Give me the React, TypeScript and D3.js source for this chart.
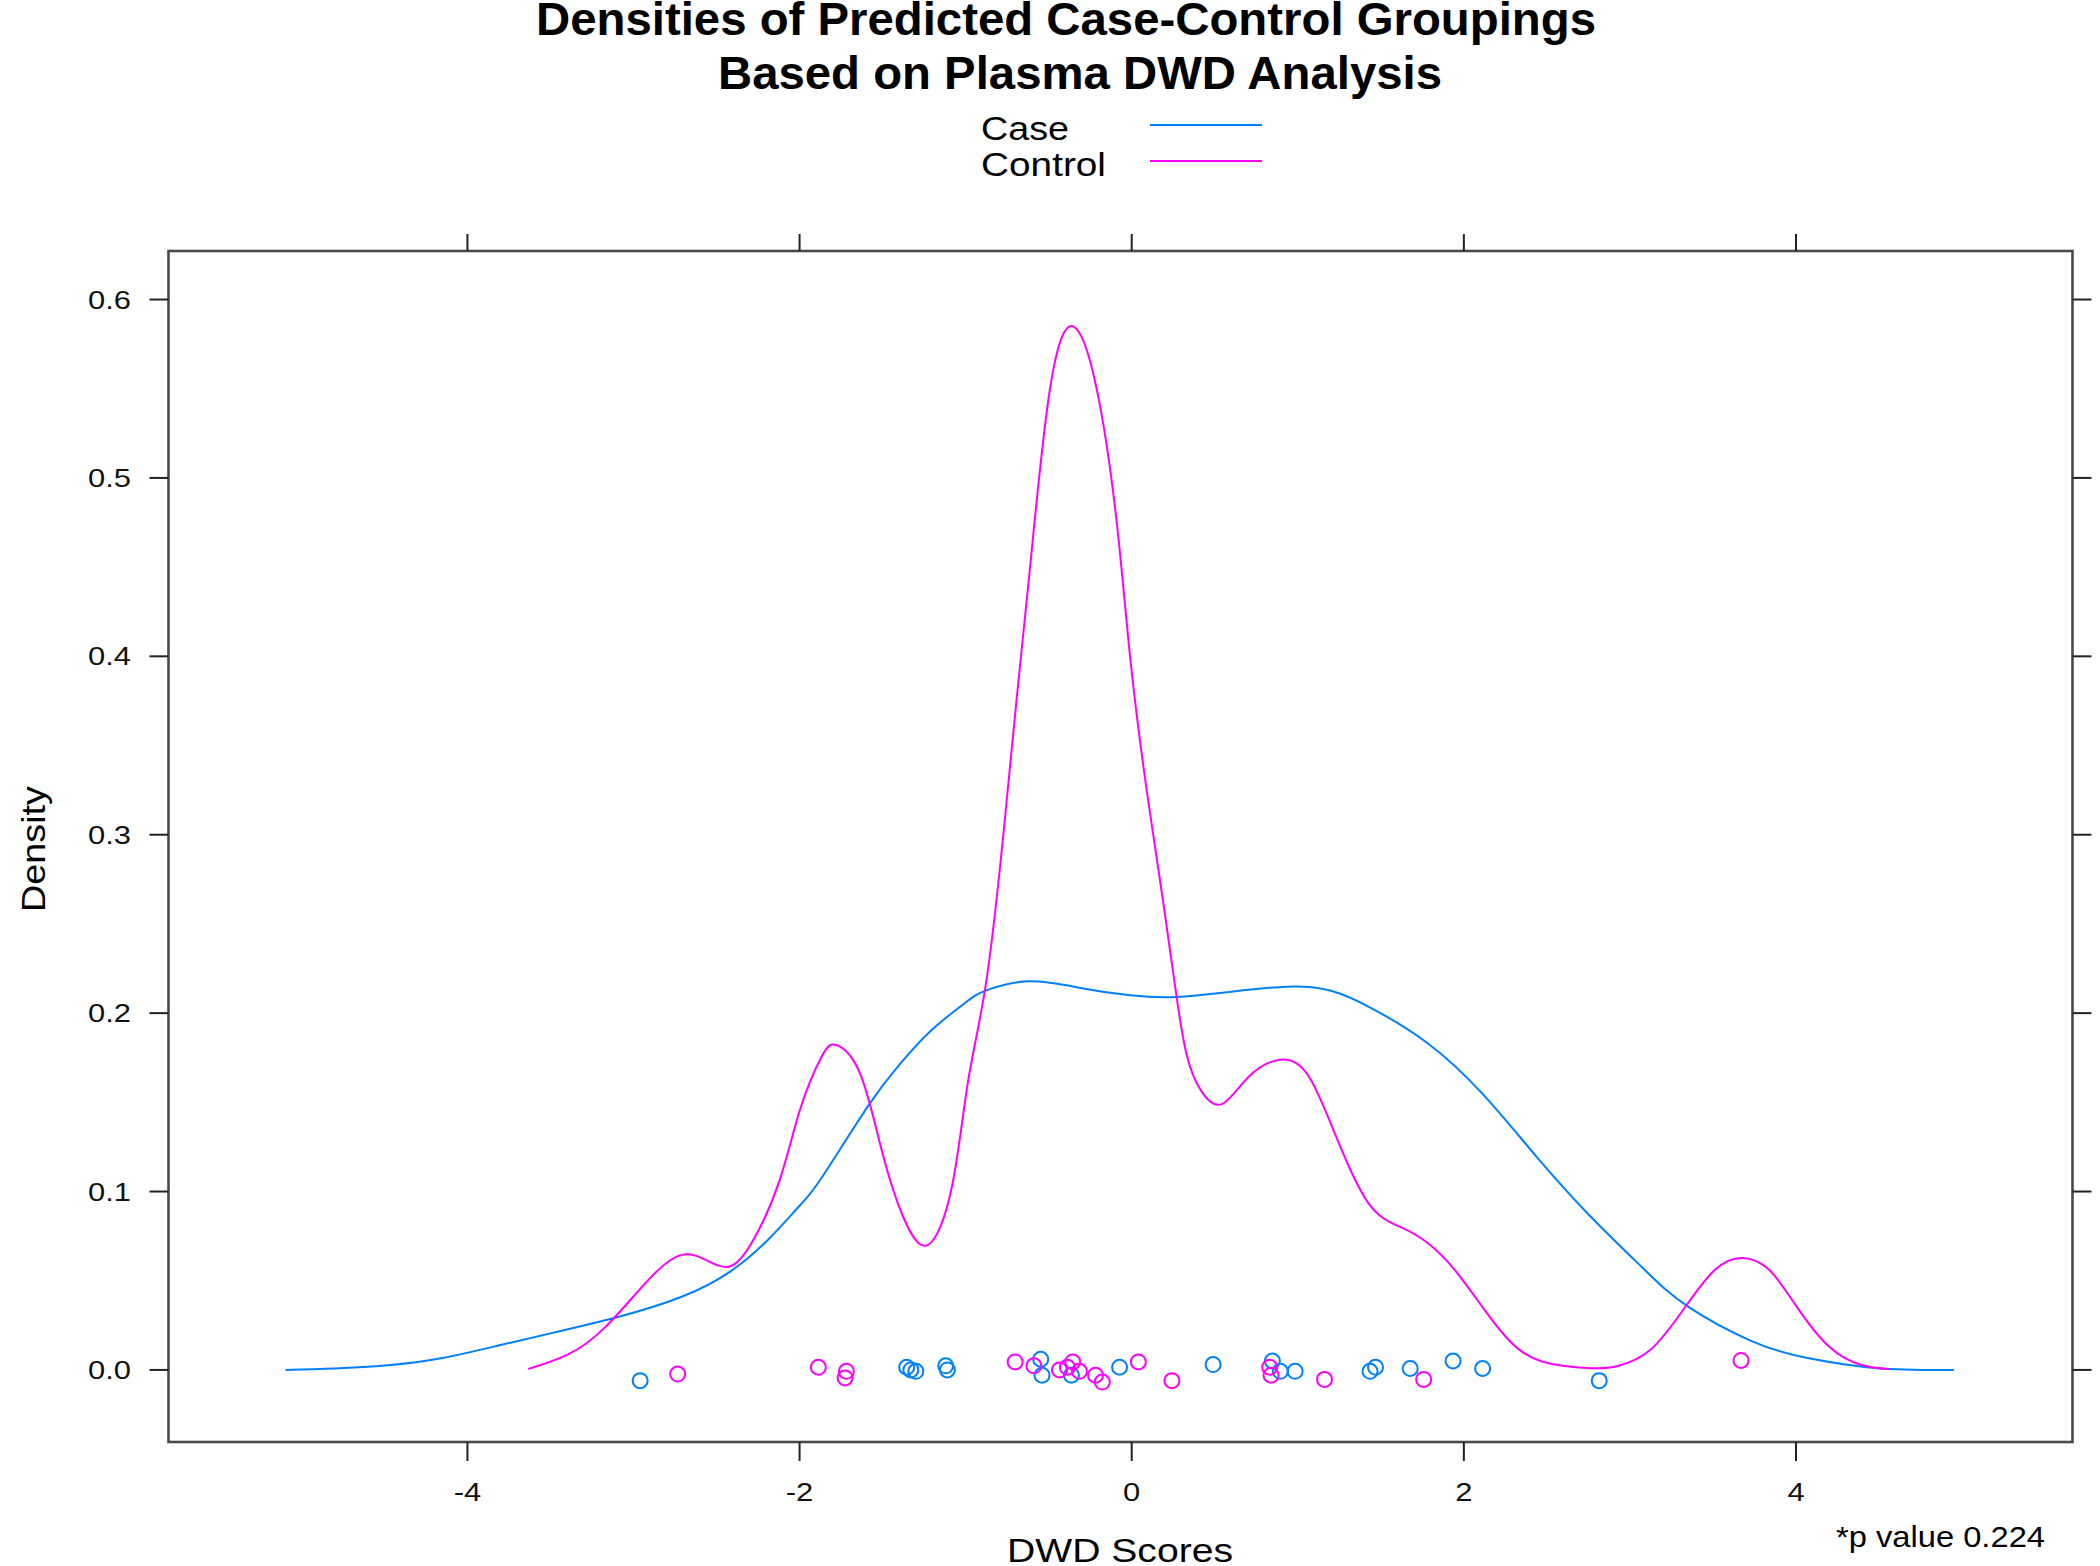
import React from "react";
import * as d3 from "d3";

const titleLines = ["Densities of Predicted Case-Control Groupings", "Based on Plasma DWD Analysis"];
const groupNames = ["Case", "Control"];
const groupColors = ["#0080ff", "#ff00ff"];
const xTicks = [-4, -2, 0, 2, 4];
const yTicks = [0, 0.1, 0.2, 0.3, 0.4, 0.5, 0.6];
const xLabel = "DWD Scores";
const yLabel = "Density";
const note = "*p value 0.224";

const caseDensX = [-5.095, -4.8, -4.48, -4.15, -3.82, -3.5, -3.1, -2.71, -2.42, -2.19, -2.0, -1.865, -1.587, -1.4, -1.211, -1.0, -0.883, -0.623, -0.3, -0.01, 0.267, 0.6, 0.935, 1.2, 1.459, 1.784, 2.11, 2.437, 2.763, 3.09, 3.35, 3.74, 4.07, 4.49, 4.95];
const caseDensY = [0.0, 0.0008, 0.0026, 0.0067, 0.0135, 0.0205, 0.0295, 0.041, 0.055, 0.073, 0.092, 0.108, 0.148, 0.171, 0.19, 0.206, 0.2125, 0.2178, 0.214, 0.21, 0.209, 0.212, 0.2148, 0.2125, 0.202, 0.183, 0.155, 0.1196, 0.086, 0.056, 0.0355, 0.0159, 0.0067, 0.001, 0.0];

const controlDensX = [-3.634, -3.4, -3.17, -2.91, -2.71, -2.55, -2.42, -2.29, -2.125, -1.997, -1.865, -1.774, -1.635, -1.505, -1.377, -1.228, -1.082, -0.985, -0.877, -0.773, -0.694, -0.612, -0.492, -0.355, -0.211, -0.09, -0.01, 0.09, 0.19, 0.269, 0.33, 0.414, 0.543, 0.706, 0.904, 1.067, 1.23, 1.425, 1.62, 1.784, 1.946, 2.11, 2.27, 2.47, 2.763, 2.927, 3.12, 3.32, 3.51, 3.677, 3.84, 4.004, 4.2, 4.395, 4.558];
const controlDensY = [0.0005, 0.0084, 0.024, 0.0505, 0.0645, 0.061, 0.058, 0.071, 0.105, 0.146, 0.176, 0.182, 0.166, 0.123, 0.086, 0.07, 0.103, 0.162, 0.217, 0.3, 0.375, 0.45, 0.55, 0.585, 0.55, 0.475, 0.4, 0.325, 0.262, 0.21, 0.177, 0.157, 0.149, 0.1645, 0.174, 0.1645, 0.131, 0.0935, 0.08, 0.071, 0.056, 0.0355, 0.0168, 0.0047, 0.001, 0.0022, 0.011, 0.0336, 0.056, 0.0628, 0.056, 0.0355, 0.013, 0.0028, 0.0005];

const casePtsX = [-2.96, -1.355, -1.33, -1.3, -1.12, -1.11, -0.548, -0.54, -0.363, -0.073, 0.49, 0.847, 0.895, 0.984, 1.435, 1.468, 1.677, 1.935, 2.113, 2.815];
const casePtsY = [-0.006, 0.0015, 0.0, -0.0008, 0.0023, 0.0, 0.006, -0.003, -0.003, 0.0015, 0.003, 0.005, -0.0008, -0.0008, -0.0008, 0.0015, 0.0008, 0.005, 0.0008, -0.006];

const controlPtsX = [-2.734, -1.887, -1.718, -1.726, -0.702, -0.589, -0.435, -0.387, -0.355, -0.315, -0.218, -0.177, 0.04, 0.242, 0.831, 0.839, 1.161, 1.758, 3.669];
const controlPtsY = [-0.0023, 0.0015, -0.0008, -0.0045, 0.0045, 0.0023, 0.0, 0.0015, 0.0045, -0.0008, -0.003, -0.0068, 0.0045, -0.006, 0.0015, -0.003, -0.0053, -0.0053, 0.0053];

const FONT = "'Liberation Sans', Arial, Helvetica, sans-serif";

export default function App() {
  const W = 2100, H = 1566;
  const left = 168.5, right = 2072.5, top = 251, bottom = 1442;
  const tick = 19;
  const x = d3.scaleLinear().domain([-5.8, 5.665]).range([left, right]);
  const y = d3.scaleLinear().domain([-0.0404, 0.6272]).range([bottom, top]);
  const line = d3
    .line<[number, number]>()
    .x((d) => x(d[0]))
    .y((d) => y(d[1]))
    .curve(d3.curveNatural);

  const densities = [
    d3.zip(caseDensX, caseDensY) as [number, number][],
    d3.zip(controlDensX, controlDensY) as [number, number][],
  ];
  const points = [
    d3.zip(casePtsX, casePtsY) as [number, number][],
    d3.zip(controlPtsX, controlPtsY) as [number, number][],
  ];

  return (
    <div style={{ position: "absolute", left: 0, top: 0, width: W, height: H, background: "#fff" }}>
      <svg width={W} height={H} viewBox={`0 0 ${W} ${H}`} style={{ display: "block", fontFamily: FONT }}>
        <rect x={0} y={0} width={W} height={H} fill="#fff" />
        {/* title */}
        <text x={1066} y={35} textAnchor="middle" fontSize={46} fontWeight="bold" textLength={1060} lengthAdjust="spacingAndGlyphs">
          {titleLines[0]}
        </text>
        <text x={1080} y={89} textAnchor="middle" fontSize={46} fontWeight="bold" textLength={724} lengthAdjust="spacingAndGlyphs">
          {titleLines[1]}
        </text>
        {/* legend */}
        {groupNames.map((g, i) => (
          <g key={g}>
            <text x={981} y={140 + i * 36} fontSize={33} textLength={i === 0 ? 88 : 125} lengthAdjust="spacingAndGlyphs">
              {g}
            </text>
            <line x1={1150} x2={1262} y1={125 + i * 36} y2={125 + i * 36} stroke={groupColors[i]} strokeWidth={2} />
          </g>
        ))}
        {/* densities */}
        {densities.map((d, i) => (
          <path key={"d" + i} d={line(d) || ""} fill="none" stroke={groupColors[i]} strokeWidth={2} />
        ))}
        {/* points */}
        {points.map((pts, i) =>
          pts.map((p, j) => (
            <circle key={`p${i}-${j}`} cx={x(p[0])} cy={y(p[1])} r={7.5} fill="none" stroke={groupColors[i]} strokeWidth={2} />
          ))
        )}
        {/* frame */}
        <rect x={left} y={top} width={right - left} height={bottom - top} fill="none" stroke="#4a4a4a" strokeWidth={2.6} />
        {/* ticks */}
        {xTicks.map((t) => (
          <g key={"xt" + t}>
            <line x1={x(t)} x2={x(t)} y1={bottom} y2={bottom + tick} stroke="#222" strokeWidth={2} />
            <line x1={x(t)} x2={x(t)} y1={top} y2={top - tick + 2} stroke="#222" strokeWidth={2} />
            <g transform={`translate(${x(t)},${1501}) scale(1.19,1)`}>
              <text x={0} y={0} textAnchor="middle" fontSize={26} fill="#111">
                {t < 0 ? "-" + Math.abs(t) : String(t)}
              </text>
            </g>
          </g>
        ))}
        {yTicks.map((t) => (
          <g key={"yt" + t}>
            <line x1={left - tick} x2={left} y1={y(t)} y2={y(t)} stroke="#222" strokeWidth={2} />
            <line x1={right} x2={right + tick} y1={y(t)} y2={y(t)} stroke="#222" strokeWidth={2} />
            <g transform={`translate(${131},${y(t) + 9}) scale(1.19,1)`}>
              <text x={0} y={0} textAnchor="end" fontSize={26} fill="#111">
                {d3.format(".1f")(t)}
              </text>
            </g>
          </g>
        ))}
        {/* axis labels */}
        <text x={1120} y={1562} textAnchor="middle" fontSize={33} textLength={226} lengthAdjust="spacingAndGlyphs">
          {xLabel}
        </text>
        <text transform={`translate(45,849) rotate(-90)`} textAnchor="middle" fontSize={33} textLength={126} lengthAdjust="spacingAndGlyphs">
          {yLabel}
        </text>
        <text x={2045} y={1547} textAnchor="end" fontSize={29} textLength={209} lengthAdjust="spacingAndGlyphs">
          {note}
        </text>
      </svg>
    </div>
  );
}
